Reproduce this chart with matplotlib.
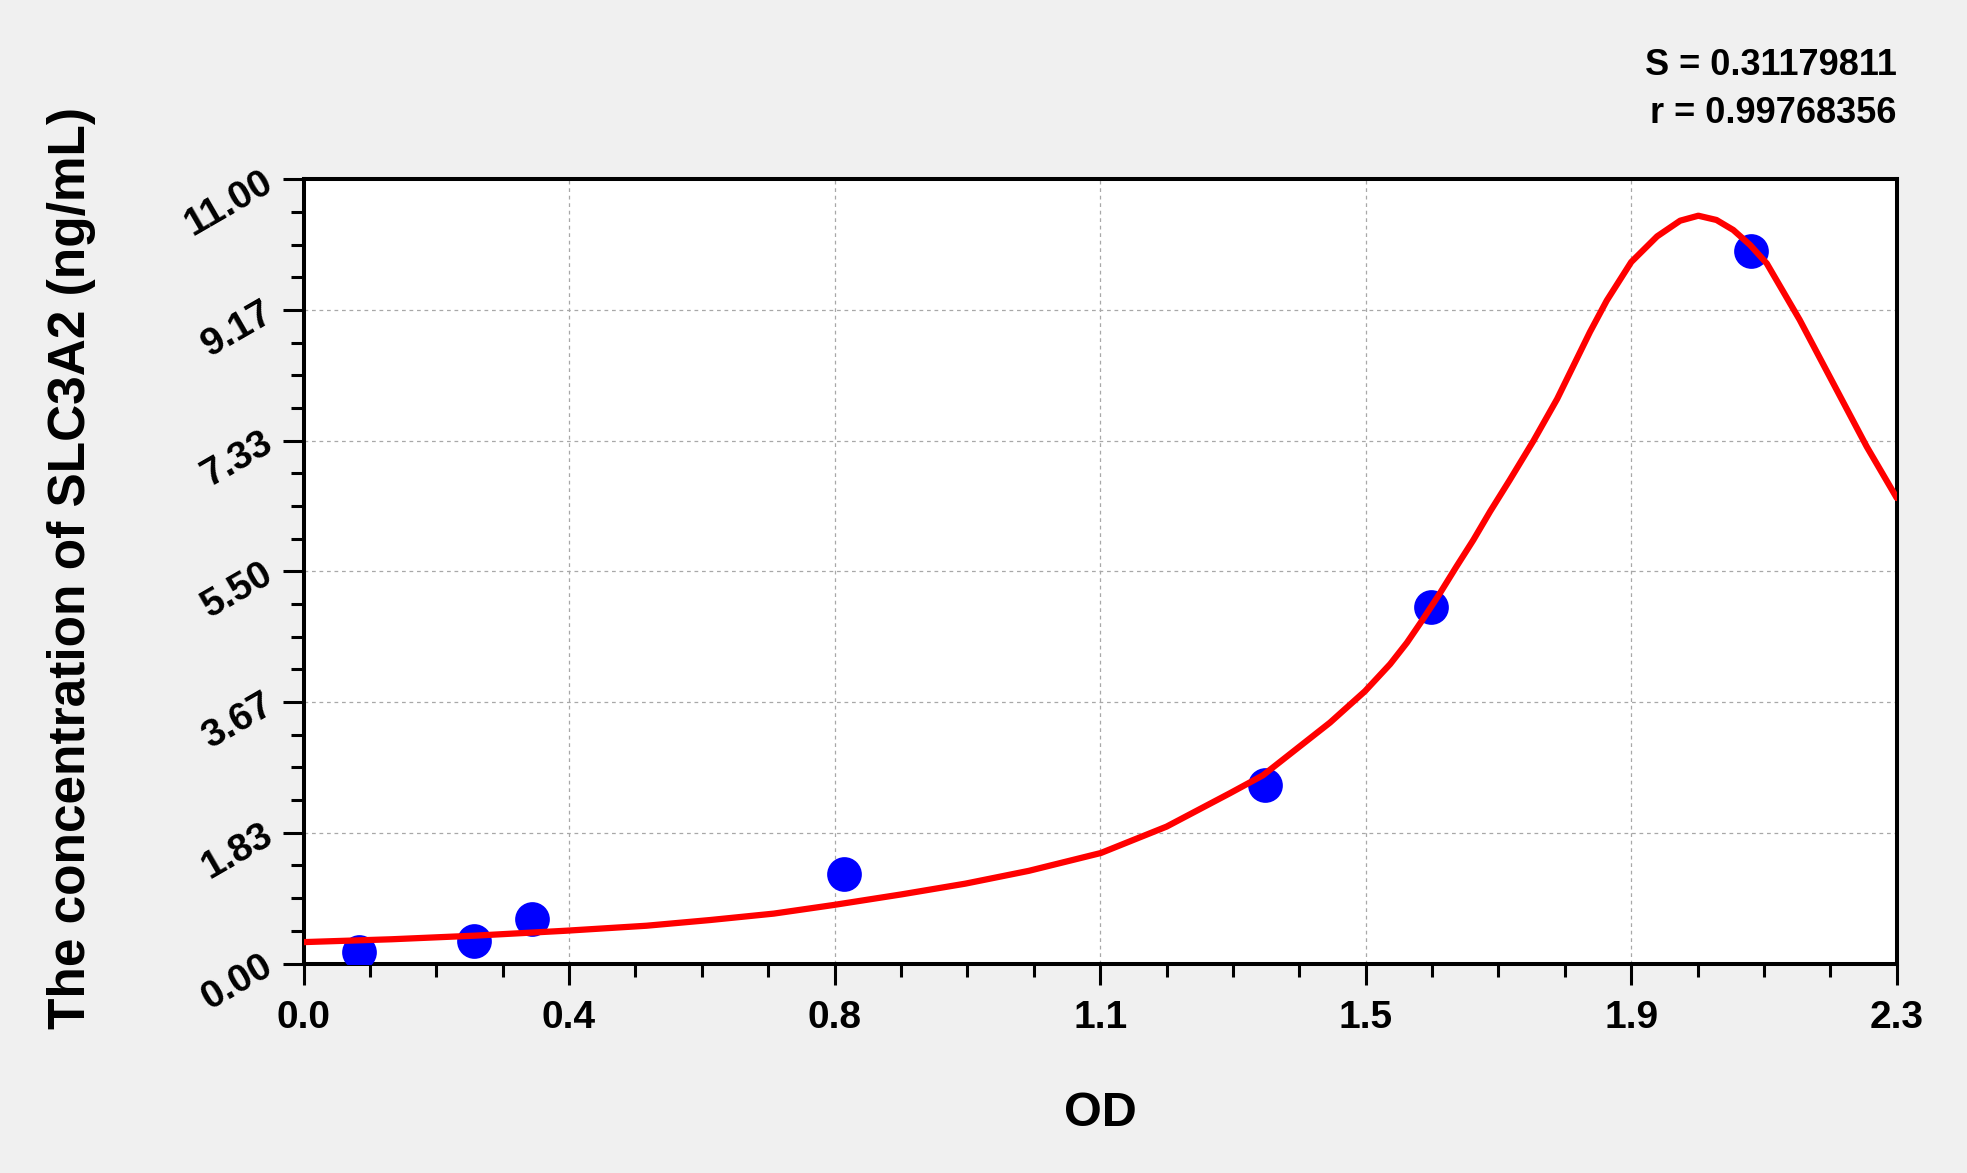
import numpy as np
import matplotlib
matplotlib.use('Agg')
import matplotlib.pyplot as plt
from matplotlib.ticker import FixedLocator, FormatStrFormatter

# standard points (OD, concentration in ng/mL)
od_values = [0.080, 0.244, 0.327, 0.773, 1.376, 1.613, 2.072]
conc_values = [0.156, 0.312, 0.625, 1.25, 2.5, 5.0, 10.0]

# fitted curve
curve_od = [0.000, 0.126, 0.244, 0.376, 0.491, 0.582, 0.673, 0.758, 0.856,
            0.947, 1.038, 1.141, 1.235, 1.326, 1.373, 1.421, 1.469, 1.519,
            1.555, 1.579, 1.602, 1.626, 1.650, 1.674, 1.698, 1.726, 1.760,
            1.794, 1.817, 1.841, 1.865, 1.900, 1.937, 1.970, 1.996, 2.022,
            2.046, 2.070, 2.094, 2.141, 2.189, 2.237, 2.280]
curve_conc = [0.30, 0.34, 0.39, 0.46, 0.53, 0.61, 0.70, 0.82, 0.97,
              1.12, 1.30, 1.55, 1.92, 2.39, 2.64, 3.01, 3.38, 3.82,
              4.20, 4.50, 4.83, 5.19, 5.57, 5.94, 6.34, 6.78, 7.33,
              7.92, 8.38, 8.86, 9.30, 9.84, 10.20, 10.42, 10.49, 10.43,
              10.29, 10.08, 9.82, 9.03, 8.14, 7.25, 6.53]

x_max = 2.28
y_max = 11.0
stats_text = ['S = 0.31179811', 'r = 0.99768356']

plt.rcParams['font.family'] = ['Liberation Sans', 'DejaVu Sans']
plt.rcParams['font.weight'] = 'bold'

fig = plt.figure(figsize=(19.67, 11.73), dpi=100, facecolor='#F0F0F0')
ax = fig.add_axes([0.1543, 0.1786, 0.8100, 0.6685])
ax.set_facecolor('white')

ax.plot(od_values, conc_values, 'o', color='#0000FF', markersize=25,
        markeredgewidth=0, zorder=3)
ax.plot(curve_od, curve_conc, '-', color='#FF0000', linewidth=4.5,
        solid_capstyle='round', solid_joinstyle='round', zorder=4)

ax.set_xlim(0, x_max)
ax.set_ylim(0, y_max)

ax.xaxis.set_major_locator(FixedLocator(np.linspace(0, x_max, 7)))
ax.xaxis.set_minor_locator(FixedLocator(np.linspace(0, x_max, 25)))
ax.yaxis.set_major_locator(FixedLocator(np.linspace(0, y_max, 7)))
ax.yaxis.set_minor_locator(FixedLocator(np.linspace(0, y_max, 25)))
ax.xaxis.set_major_formatter(FormatStrFormatter('%.1f'))
ax.yaxis.set_major_formatter(FormatStrFormatter('%.2f'))

ax.grid(True, which='major', color='#A8A8A8', linestyle=(0, (3, 3)),
        linewidth=0.9, zorder=0)
ax.set_axisbelow(True)

for sp in ax.spines.values():
    sp.set_linewidth(2.9)
    sp.set_color('black')

ax.tick_params(which='major', direction='out', length=15, width=2.2,
               color='black', labelsize=28, pad=9)
ax.tick_params(which='minor', direction='out', length=9.5, width=2.2,
               color='black')
ax.tick_params(axis='x', which='major', pad=11)

for lbl in ax.get_xticklabels():
    lbl.set_fontweight('bold')
for lbl in ax.get_yticklabels():
    lbl.set_fontweight('bold')
    lbl.set_rotation(30)
    lbl.set_rotation_mode('anchor')
    lbl.set_ha('right')
    lbl.set_va('center')

ax.set_xlabel('OD', fontsize=35, fontweight='bold', va='center')
ax.xaxis.set_label_coords(0.5, -0.1907)
ax.set_ylabel('The concentration of SLC3A2 (ng/mL)', fontsize=37,
              fontweight='bold', va='center')
ax.yaxis.set_label_coords(-0.1454, 0.504)

fig.text(0.9643, 0.944, stats_text[0], ha='right', va='center',
         fontsize=26, fontweight='bold')
fig.text(0.9643, 0.903, stats_text[1], ha='right', va='center',
         fontsize=26, fontweight='bold')

fig.savefig('out.png', dpi=100, facecolor=fig.get_facecolor())
